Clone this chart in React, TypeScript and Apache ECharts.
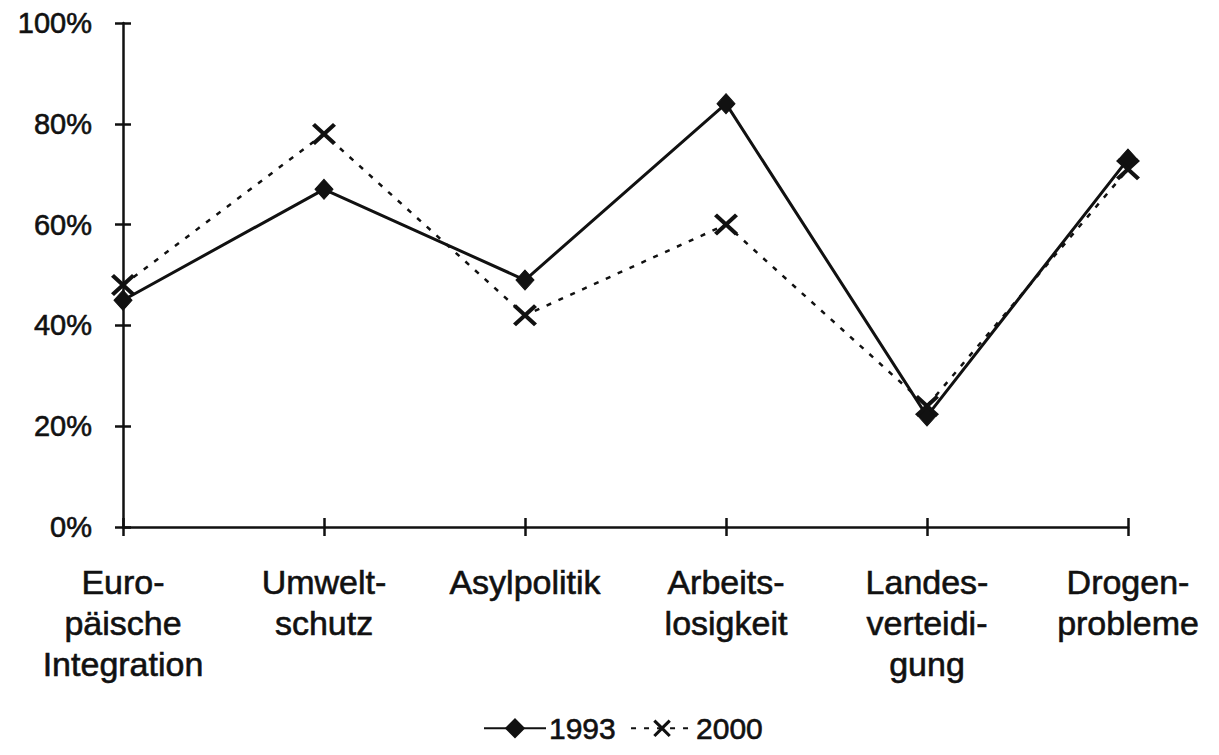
import React, { useEffect, useRef } from "react";
import * as echarts from "echarts";

const categories = [
  "Euro-\npäische\nIntegration",
  "Umwelt-\nschutz",
  "Asylpolitik",
  "Arbeits-\nlosigkeit",
  "Landes-\nverteidi-\ngung",
  "Drogen-\nprobleme",
];
const values1993 = [45, 67, 49, 84, 22, 73];
const values2000 = [48, 78, 42, 60, 24, 71];
const yMin = 0;
const yMax = 100;
const yInterval = 20;

const FONT = "'Liberation Sans', Arial, sans-serif";
const INK = "#111";
const CROSS =
  "path://M2.5,0L10,7.5L17.5,0L20,2.5L12.5,10L20,17.5L17.5,20L10,12.5L2.5,20L0,17.5L7.5,10L0,2.5Z";

export default function App() {
  const ref = useRef<HTMLDivElement>(null);
  useEffect(() => {
    if (!ref.current) return;
    const chart = echarts.init(ref.current, undefined, { renderer: "svg" });
    const yBase = {
      type: "value" as const,
      min: yMin,
      max: yMax,
      interval: yInterval,
      splitLine: { show: false },
    };
    const xBase = {
      type: "category" as const,
      data: categories,
      boundaryGap: false,
      position: "bottom" as const,
    };
    chart.setOption({
      animation: false,
      backgroundColor: "#fff",
      textStyle: { fontFamily: FONT, color: INK },
      grid: { left: 123, right: 91, top: 23, bottom: 228, containLabel: false },
      xAxis: [
        {
          ...xBase,
          axisLine: { show: true, lineStyle: { color: INK, width: 2.5 } },
          axisTick: { show: true, inside: false, length: 9, lineStyle: { color: INK, width: 2.5 } },
          axisLabel: {
            fontFamily: FONT,
            fontSize: 34,
            lineHeight: 41,
            color: INK,
            textBorderColor: INK,
            textBorderWidth: 0.6,
            margin: 34,
            interval: 0,
            align: "center",
          },
        },
        {
          ...xBase,
          axisLine: { show: false },
          axisTick: { show: true, inside: true, length: 9, lineStyle: { color: INK, width: 2.5 } },
          axisLabel: { show: false },
        },
      ],
      yAxis: [
        {
          ...yBase,
          axisLine: { show: true, lineStyle: { color: INK, width: 2.5 } },
          axisTick: { show: true, inside: false, length: 8, lineStyle: { color: INK, width: 2.5 } },
          axisLabel: {
            fontFamily: FONT,
            fontSize: 29,
            color: INK,
            textBorderColor: INK,
            textBorderWidth: 0.6,
            margin: 31,
            formatter: "{value}%",
          },
        },
        {
          ...yBase,
          position: "left",
          axisLine: { show: false },
          axisTick: { show: true, inside: true, length: 8, lineStyle: { color: INK, width: 2.5 } },
          axisLabel: { show: false },
        },
      ],
      legend: {
        left: 478,
        top: 708,
        itemWidth: 62,
        itemHeight: 22,
        itemGap: 14,
        textStyle: {
          fontFamily: FONT,
          fontSize: 30,
          color: INK,
          textBorderColor: INK,
          textBorderWidth: 0.6,
          padding: [0, 0, 0, -2],
        },
        data: ["1993", "2000"],
      },
      series: [
        {
          name: "1993",
          type: "line",
          data: values1993,
          symbol: "diamond",
          symbolSize: [18, 20],
          lineStyle: { color: INK, width: 3 },
          itemStyle: { color: INK, borderColor: INK, borderWidth: 1 },
          z: 2,
        },
        {
          name: "2000",
          type: "line",
          data: values2000,
          symbol: CROSS,
          symbolSize: [24, 22],
          lineStyle: { color: INK, width: 2.5, type: [5, 8] },
          itemStyle: { color: INK },
          z: 3,
        },
      ],
    });
    return () => chart.dispose();
  }, []);
  return (
    <div
      ref={ref}
      style={{ position: "fixed", left: 0, top: 0, width: 1219, height: 755, background: "#fff" }}
    />
  );
}
